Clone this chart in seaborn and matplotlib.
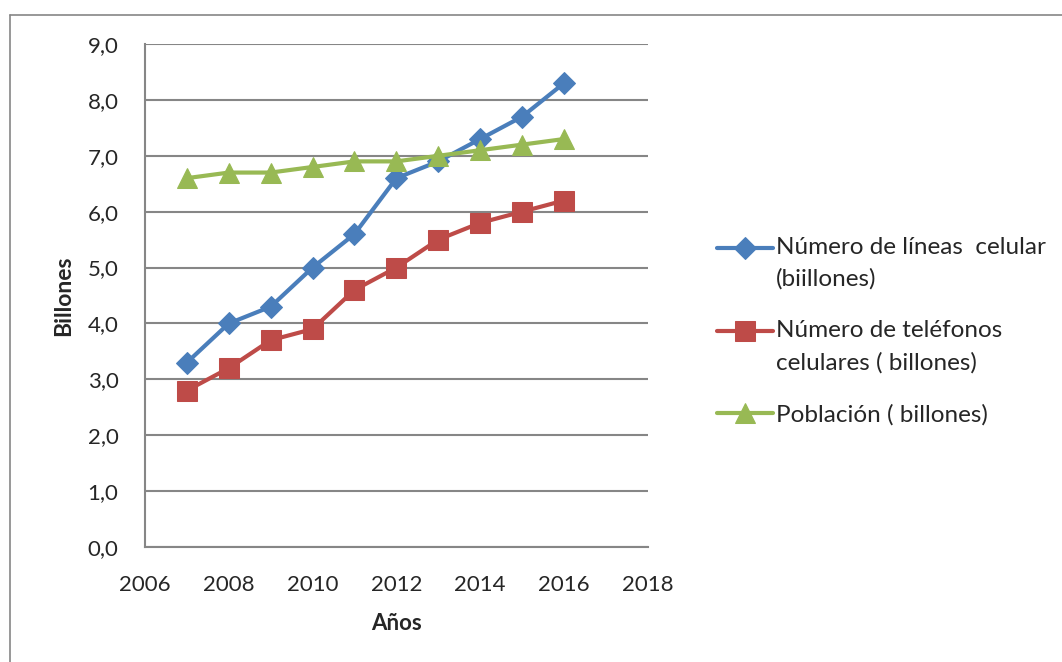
import numpy as np
import pandas as pd
import matplotlib
matplotlib.use("Agg")
import matplotlib.pyplot as plt
import seaborn as sns
from matplotlib.ticker import FuncFormatter, MultipleLocator
from matplotlib.lines import Line2D
from matplotlib.legend_handler import HandlerLine2D

# Datos
anios = [2007, 2008, 2009, 2010, 2011, 2012, 2013, 2014, 2015, 2016]
lineas = [3.3, 4.0, 4.3, 5.0, 5.6, 6.6, 6.9, 7.3, 7.7, 8.3]
telefonos = [2.8, 3.2, 3.7, 3.9, 4.6, 5.0, 5.5, 5.8, 6.0, 6.2]
poblacion = [6.6, 6.7, 6.7, 6.8, 6.9, 6.9, 7.0, 7.1, 7.2, 7.3]

nombres = ["Número de líneas  celular\n(biillones)",
           "Número de teléfonos\ncelulares ( billones)",
           "Población ( billones)"]
colores = ["#4A7EBB", "#BE4B48", "#98B954"]
marcadores = ["D", "s", "^"]
tamanos = [11, 14, 14]


# el símbolo de la leyenda va a la altura de la primera línea del texto (como Excel)
class HandlerPrimeraLinea(HandlerLine2D):
    def __init__(self, shift=0, **kw):
        super().__init__(**kw)
        self.shift = shift

    def create_artists(self, legend, orig_handle, xdescent, ydescent, width, height, fontsize, trans):
        return super().create_artists(legend, orig_handle, xdescent, ydescent, width,
                                      height + 2 * self.shift, fontsize, trans)


sns.set_style("white")
plt.rcParams['font.family'] = ['Lato', 'DejaVu Sans']

df = pd.DataFrame({"Años": anios * 3,
                   "Billones": lineas + telefonos + poblacion,
                   "Serie": [nombres[0]] * 10 + [nombres[1]] * 10 + [nombres[2]] * 10})

fig = plt.figure(figsize=(10.62, 6.62), dpi=100)
ax = fig.add_axes([0.1365, 0.1737, 0.4735, 0.7598])

for i, nombre in enumerate(nombres):
    sns.lineplot(data=df[df["Serie"] == nombre], x="Años", y="Billones", ax=ax,
                 color=colores[i], marker=marcadores[i], markersize=tamanos[i],
                 markeredgecolor=colores[i], linewidth=3, label=nombre, zorder=3 + i)

ax.set_xlim(2006, 2018)
ax.set_ylim(0, 9)
ax.xaxis.set_major_locator(MultipleLocator(2))
ax.yaxis.set_major_locator(MultipleLocator(1))
ax.yaxis.set_major_formatter(FuncFormatter(lambda v, p: f"{v:.1f}".replace(".", ",")))
ax.xaxis.set_major_formatter(FuncFormatter(lambda v, p: f"{int(v)}"))
ax.grid(axis="y", color="#868686", linewidth=1.5)
ax.set_axisbelow(True)
for s in ["top", "right"]:
    ax.spines[s].set_visible(False)
for s in ["left", "bottom"]:
    ax.spines[s].set_color("#868686")
    ax.spines[s].set_linewidth(1.5)
ax.tick_params(length=0, labelsize=16)
ax.tick_params(axis="x", pad=20)
ax.tick_params(axis="y", pad=19)
ax.set_xlabel("Años", fontsize=16, fontweight="bold", labelpad=13)
ax.set_ylabel("Billones", fontsize=16.5, fontweight="bold", labelpad=10)

ax.legend_.remove()
h, l = ax.get_legend_handles_labels()
mapa = {hd: HandlerPrimeraLinea(shift=11.5 * lb.count("\n")) for hd, lb in zip(h, l)}
leg = fig.legend(h, l, loc="upper left", bbox_to_anchor=(0.655, 0.675), frameon=False,
                 fontsize=17.5, handlelength=2.3, handletextpad=0.1, labelspacing=1.25,
                 handler_map=mapa)
for t in leg.get_texts():
    t.set_linespacing(1.6)

# borde exterior del gráfico
fig.add_artist(Line2D([0.0094, 0.0094], [0, 0.977], color="#868686", linewidth=1.2))
fig.add_artist(Line2D([0.0094, 1], [0.977, 0.977], color="#868686", linewidth=1.2))

fig.savefig("out.png", dpi=100)
